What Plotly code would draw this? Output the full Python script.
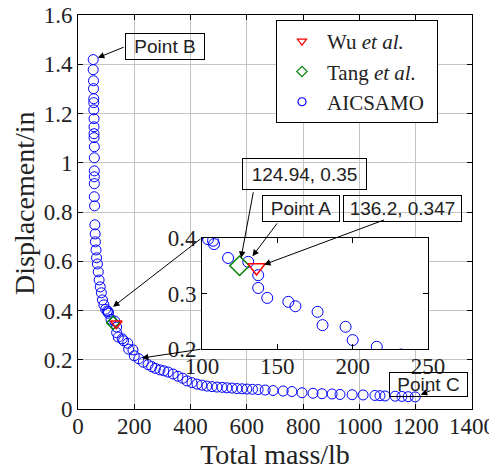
import plotly.graph_objects as go

# ---------------- data ----------------
aic_mass = [54, 54, 55, 55, 56, 56, 56, 57, 57, 57, 57, 58, 58, 58, 58, 58, 58, 59,
            60, 61, 62, 64, 66, 69, 72, 75, 79, 83, 87, 92, 98, 104,
            107.3, 108, 117.3, 130.7, 137.3, 137.3, 143.3, 157.3, 162, 176.7, 180, 195.3, 200, 216,
            232, 249, 262, 275, 291, 305, 320, 338, 355, 372, 387, 405, 423, 440, 458, 476, 494,
            512, 529, 547, 565, 583, 600, 620, 640, 665, 693, 729, 760, 796, 835, 867, 903, 931,
            974, 1013, 1055, 1073, 1091, 1127, 1151, 1173, 1198]
aic_disp = [1.419, 1.378, 1.333, 1.301, 1.260, 1.244, 1.215, 1.179, 1.146, 1.118, 1.102, 1.065,
            1.020, 0.967, 0.943, 0.915, 0.862, 0.825,
            0.748, 0.711, 0.679, 0.646, 0.614, 0.589, 0.557, 0.524, 0.496, 0.472, 0.443, 0.423, 0.405, 0.398,
            0.395, 0.389, 0.364, 0.357, 0.333, 0.310, 0.292, 0.285, 0.277, 0.267, 0.243, 0.240, 0.216, 0.204,
            0.190, 0.180, 0.172, 0.165, 0.159, 0.155, 0.150, 0.142, 0.133, 0.125, 0.114, 0.107, 0.101,
            0.097, 0.093, 0.091, 0.089, 0.088, 0.086, 0.085, 0.083, 0.082, 0.081, 0.080, 0.079, 0.077,
            0.075, 0.073, 0.071, 0.066, 0.064, 0.062, 0.061, 0.059, 0.058, 0.057, 0.055, 0.054, 0.053,
            0.052, 0.051, 0.050, 0.049]
wu_mass, wu_disp = [136.2], [0.347]
tang_mass, tang_disp = [124.94], [0.35]

x_ticks = [0, 200, 400, 600, 800, 1000, 1200, 1400]
y_ticks = [0, 0.2, 0.4, 0.6, 0.8, 1.0, 1.2, 1.4, 1.6]
y_tick_text = ["0", "0.2", "0.4", "0.6", "0.8", "1", "1.2", "1.4", "1.6"]
inset_x_ticks = [100, 150, 200, 250]
inset_y_ticks = [0.2, 0.3, 0.4]

# ---------------- layout geometry ----------------
# page body adds an 8px margin, so the figure is drawn 8px smaller and
# all screen coordinates below are converted by subtracting that offset.
OFF = 8
W, H = 497 - OFF, 470 - OFF
L, R, T, B = 78, 472, 15, 409          # plot area in screen pixels
PW, PH = R - L, B - T


def px(xp):
    return (xp - L) / PW


def py(yp):
    return (B - yp) / PH


SERIF = "Liberation Serif, Times New Roman, serif"
SANS = "Liberation Sans, Arial, sans-serif"

fig = go.Figure()

# main traces
fig.add_trace(go.Scatter(x=aic_mass, y=aic_disp, mode="markers", showlegend=False,
                         marker=dict(symbol="circle-open", size=10, color="#0000ff", line=dict(width=1)),
                         xaxis="x", yaxis="y"))
fig.add_trace(go.Scatter(x=tang_mass, y=tang_disp, mode="markers", showlegend=False,
                         marker=dict(symbol="diamond-open", size=10, color="#008000", line=dict(width=1.5)),
                         xaxis="x", yaxis="y"))
fig.add_trace(go.Scatter(x=wu_mass, y=wu_disp, mode="markers", showlegend=False,
                         marker=dict(symbol="triangle-down-open", size=10, color="#ff0000", line=dict(width=1.5)),
                         xaxis="x", yaxis="y"))
# inset traces
fig.add_trace(go.Scatter(x=aic_mass, y=aic_disp, mode="markers", showlegend=False,
                         marker=dict(symbol="circle-open", size=11, color="#0000ff", line=dict(width=1)),
                         xaxis="x2", yaxis="y2"))
fig.add_trace(go.Scatter(x=tang_mass, y=tang_disp, mode="markers", showlegend=False,
                         marker=dict(symbol="diamond-open", size=15, color="#008000", line=dict(width=1.5)),
                         xaxis="x2", yaxis="y2"))
fig.add_trace(go.Scatter(x=wu_mass, y=wu_disp, mode="markers", showlegend=False,
                         marker=dict(symbol="triangle-down-open", size=15, color="#ff0000", line=dict(width=1.5)),
                         xaxis="x2", yaxis="y2"))
# legend entries
fig.add_trace(go.Scatter(x=[None], y=[None], mode="markers", name="Wu <i>et al.</i>",
                         marker=dict(symbol="triangle-down-open", size=8, color="#ff0000", line=dict(width=1.2))))
fig.add_trace(go.Scatter(x=[None], y=[None], mode="markers", name="Tang <i>et al.</i>&nbsp;&nbsp;&nbsp;",
                         marker=dict(symbol="diamond-open", size=8, color="#008000", line=dict(width=1.2))))
fig.add_trace(go.Scatter(x=[None], y=[None], mode="markers", name="AICSAMO",
                         marker=dict(symbol="circle-open", size=8, color="#0000ff", line=dict(width=1.2))))

# inset geometry (screen pixels)
IX0, IX1, IY0, IY1 = 202, 428, 238, 349

axis_common = dict(showline=True, linecolor="black", linewidth=1, mirror="ticks", ticks="inside",
                   ticklen=5, tickcolor="black", zeroline=False, automargin=False,
                   ticklabeloverflow="allow",
                   tickfont=dict(family=SERIF, size=23, color="#222222"))

fig.update_layout(
    width=W, height=H,
    margin=dict(l=L - OFF, r=W - (R - OFF), t=T - OFF, b=H - (B - OFF), autoexpand=False),
    paper_bgcolor="white", plot_bgcolor="white",
    xaxis=dict(range=[0, 1400], tickvals=x_ticks, showgrid=True, gridcolor="#c4c4c4", gridwidth=1,
               domain=[0, 1], anchor="y", ticklabelstandoff=-4,
               title=dict(text="Total mass/lb", font=dict(family=SERIF, size=28, color="#222222"), standoff=0),
               **axis_common),
    yaxis=dict(range=[0, 1.6], tickvals=y_ticks, ticktext=y_tick_text, showgrid=True, gridcolor="#c4c4c4",
               gridwidth=1, domain=[0, 1], anchor="x",
               **axis_common),
    xaxis2=dict(range=[100, 250], tickvals=inset_x_ticks, showgrid=False, anchor="y2",
                domain=[px(IX0), px(IX1)], ticklabelstandoff=-4, **axis_common),
    yaxis2=dict(range=[0.2, 0.4], tickvals=inset_y_ticks, showgrid=False, anchor="x2",
                domain=[py(IY1), py(IY0)], **axis_common),
    legend=dict(x=px(276), y=py(20), xanchor="left", yanchor="top",
                bgcolor="white", bordercolor="black", borderwidth=1,
                font=dict(family=SERIF, size=21, color="#222222"), itemwidth=40,
                tracegroupgap=0),
    showlegend=True,
)

# white background of the inset
fig.add_shape(type="rect", xref="paper", yref="paper", x0=px(IX0), x1=px(IX1), y0=py(IY1), y1=py(IY0),
              fillcolor="white", line=dict(width=0), layer="between")

ann = []
# y-axis title
ann.append(dict(text="Displacement/in", xref="paper", yref="paper", x=px(24), y=py(203),
                xanchor="center", yanchor="middle", showarrow=False, textangle=-90,
                font=dict(family=SERIF, size=28, color="#222222")))
# arrows (tip at data point, tail offset in pixels)
arrow_style = dict(showarrow=True, arrowhead=2, arrowsize=1.3, arrowwidth=1, arrowcolor="black", text="")
ann.append(dict(x=aic_mass[0], y=aic_disp[0], xref="x", yref="y", ax=32, ay=-13, standoff=5, **arrow_style))
ann.append(dict(x=124.4, y=0.415, xref="x", yref="y", ax=IX0 - 113, ay=IY0 - 307, standoff=0, **arrow_style))
ann.append(dict(x=227, y=0.207, xref="x", yref="y", ax=IX0 - 142, ay=IY1 - 358, standoff=0, **arrow_style))
ann.append(dict(x=tang_mass[0], y=tang_disp[0], xref="x2", yref="y2", ax=14, ay=-75, standoff=8, **arrow_style))
ann.append(dict(x=130.7, y=0.357, xref="x2", yref="y2", ax=30, ay=-40, standoff=7, **arrow_style))
ann.append(dict(x=wu_mass[0], y=wu_disp[0], xref="x2", yref="y2", ax=129, ay=-48, standoff=8, **arrow_style))
ann.append(dict(x=aic_mass[-1], y=aic_disp[-1], xref="x", yref="y", ax=17, ay=-7, standoff=6, **arrow_style))

# text boxes: (text, left, top, right, bottom) in screen pixels
boxes = [
    ("Point B", 125, 33, 205, 60),
    ("124.94, 0.35", 242, 158, 367, 190),
    ("Point A", 262, 195, 340, 222),
    ("136.2, 0.347", 343, 195, 462, 222),
    ("Point C", 389, 372, 468, 397),
]
for text, x0, y0, x1, y1 in boxes:
    ann.append(dict(text=text, xref="paper", yref="paper", x=px((x0 + x1) / 2), y=py((y0 + y1) / 2),
                    xanchor="center", yanchor="middle", showarrow=False,
                    font=dict(family=SANS, size=19, color="#222222"),
                    bordercolor="black", borderwidth=1, borderpad=1,
                    width=x1 - x0 - 4, height=y1 - y0 - 4))
fig.update_layout(annotations=ann)

fig.write_html("out.html")
